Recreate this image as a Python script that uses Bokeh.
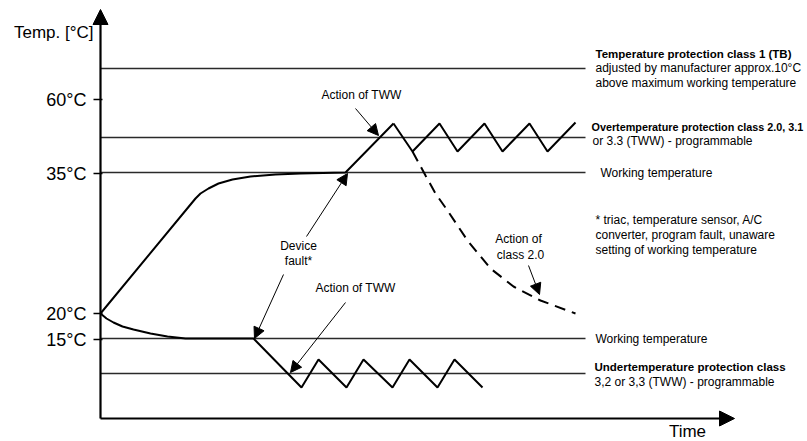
from bokeh.plotting import figure
from bokeh.models import Range1d, Arrow, NormalHead, ColumnDataSource
from bokeh.core.properties import value
from bokeh.embed import file_html
from bokeh.resources import INLINE

FONT = "Liberation Sans"

# ---- diagram data (diagram units: time → right, temperature level → up) ----
# temperature levels on the axis
tick_labels = ["60°C", "35°C", "20°C", "15°C"]
tick_levels = [99, 173, 313, 339]

# protection / working reference levels
ref_levels = [68, 137, 172, 338, 373]
ref_start = 100
ref_end = 585

# heating curve to working temperature then fault ramp
heat_t = [100, 195, 200, 208, 218, 232, 250, 275, 300, 345, 393]
heat_v = [313, 198, 193, 188, 183, 179, 176, 174, 173, 172, 123]

# TWW oscillation around the overtemperature level
over_t = [393, 412, 439, 457, 484, 502, 529, 547, 575]
over_v = [123, 151, 123, 151, 123, 151, 123, 151, 122]

# cooling curve to low working temperature, fault, TWW oscillation
cool_t = [100, 106, 113, 122, 133, 150, 167, 185, 253, 301, 318, 346, 363, 392, 409, 437, 454, 482]
cool_v = [313, 318, 322, 326, 329, 333, 336, 338, 338, 387, 359, 387, 359, 387, 359, 387, 359, 387]

# class 2.0 action (dashed)
dash_t = [412, 418, 425, 435, 447, 467, 490, 513, 540, 575]
dash_v = [151, 162, 175, 193, 210, 240, 268, 286, 300, 313]

# annotation arrows (start -> tip)
arr_x0 = [355, 306, 283, 345, 528]
arr_y0 = [108, 236, 274, 302, 265]
arr_x1 = [378, 347, 254, 290, 539]
arr_y1 = [135, 173, 338, 372, 294]

# in-diagram labels
lab_text = ["Action of TWW", "Device", "fault*", "Action of TWW", "Action of", "class 2.0"]
lab_x = [361, 298, 298, 355, 518, 520]
lab_y = [94, 245, 260, 287, 238, 254]

# right-hand legend texts
head_text = ["Temperature protection class 1 (TB)",
             "Undertemperature protection class"]
head_x = [595, 594]
head_y = [53, 366]

over_head_text = ["Overtemperature protection class 2.0, 3.1"]
over_head_x = [591]
over_head_y = [126]

note_text = ["adjusted by manufacturer approx.10°C",
             "above maximum working temperature",
             "or 3.3 (TWW) - programmable",
             "Working temperature",
             "* triac, temperature sensor, A/C",
             "converter, program fault, unaware",
             "setting of working temperature",
             "Working temperature",
             "3,2 or 3,3 (TWW) - programmable"]
note_x = [595, 595, 592, 600, 595, 595, 595, 595, 594]
note_y = [67, 82, 140, 172, 219, 234, 249, 338, 381]

# ---------------------------------------------------------------------------
W, H = 807, 441
p = figure(width=W, height=H, x_range=Range1d(0, W), y_range=Range1d(H, 0),
           output_backend="svg", toolbar_location=None, min_border=0,
           x_axis_location=None, y_axis_location=None)
p.grid.visible = False
p.outline_line_color = None
p.background_fill_color = "white"
p.border_fill_color = "white"

# reference lines
p.multi_line(xs=[[ref_start, ref_end] for _ in ref_levels],
             ys=[[v, v] for v in ref_levels],
             line_color="#2a2a2a", line_width=1.3)

# axis ticks
p.multi_line(xs=[[93, 102] for _ in tick_levels], ys=[[v, v] for v in tick_levels],
             line_color="black", line_width=1.5)

# axes with arrow heads
axes = ColumnDataSource(dict(x0=[100, 100], y0=[418, 418], x1=[100, 734], y1=[9, 418]))
p.add_layout(Arrow(end=NormalHead(size=15, fill_color="black", line_color="black", line_width=1),
                   x_start="x0", y_start="y0", x_end="x1", y_end="y1",
                   source=axes, line_width=2.2, line_color="black"))

# curves
p.line(heat_t, heat_v, line_color="black", line_width=2)
p.line(over_t, over_v, line_color="black", line_width=2)
p.line(cool_t, cool_v, line_color="black", line_width=2)
p.line(dash_t, dash_v, line_color="black", line_width=2, line_dash="11 7")

# annotation arrows
arr = ColumnDataSource(dict(x0=arr_x0, y0=arr_y0, x1=arr_x1, y1=arr_y1))
p.add_layout(Arrow(end=NormalHead(size=11, fill_color="black", line_color="black", line_width=1),
                   x_start="x0", y_start="y0", x_end="x1", y_end="y1",
                   source=arr, line_width=1, line_color="black"))

# axis labels
p.text(x=[93], y=[32], text=["Temp. [°C]"], text_align="right", text_baseline="middle",
       text_font=value(FONT), text_font_size="17px", text_color="black")
p.text(x=[86] * len(tick_labels), y=tick_levels, text=tick_labels, text_align="right",
       text_baseline="middle", text_font=value(FONT), text_font_size="18px", text_color="black")
p.text(x=[687], y=[431], text=["Time"], text_align="center", text_baseline="middle",
       text_font=value(FONT), text_font_size="17px", text_color="black")

# in-diagram labels
p.text(x=lab_x, y=lab_y, text=lab_text, text_align="center", text_baseline="middle",
       text_font=value(FONT), text_font_size="12px", text_color="black")

# legend texts
p.text(x=head_x, y=head_y, text=head_text, text_align="left", text_baseline="middle",
       text_font=value(FONT), text_font_size="11.5px", text_font_style="bold", text_color="black")
p.text(x=over_head_x, y=over_head_y, text=over_head_text, text_align="left", text_baseline="middle",
       text_font=value(FONT), text_font_size="10.8px", text_font_style="bold", text_color="black")
p.text(x=note_x, y=note_y, text=note_text, text_align="left", text_baseline="middle",
       text_font=value(FONT), text_font_size="12px", text_color="black")

open("out.html", "w").write(file_html(p, INLINE))
